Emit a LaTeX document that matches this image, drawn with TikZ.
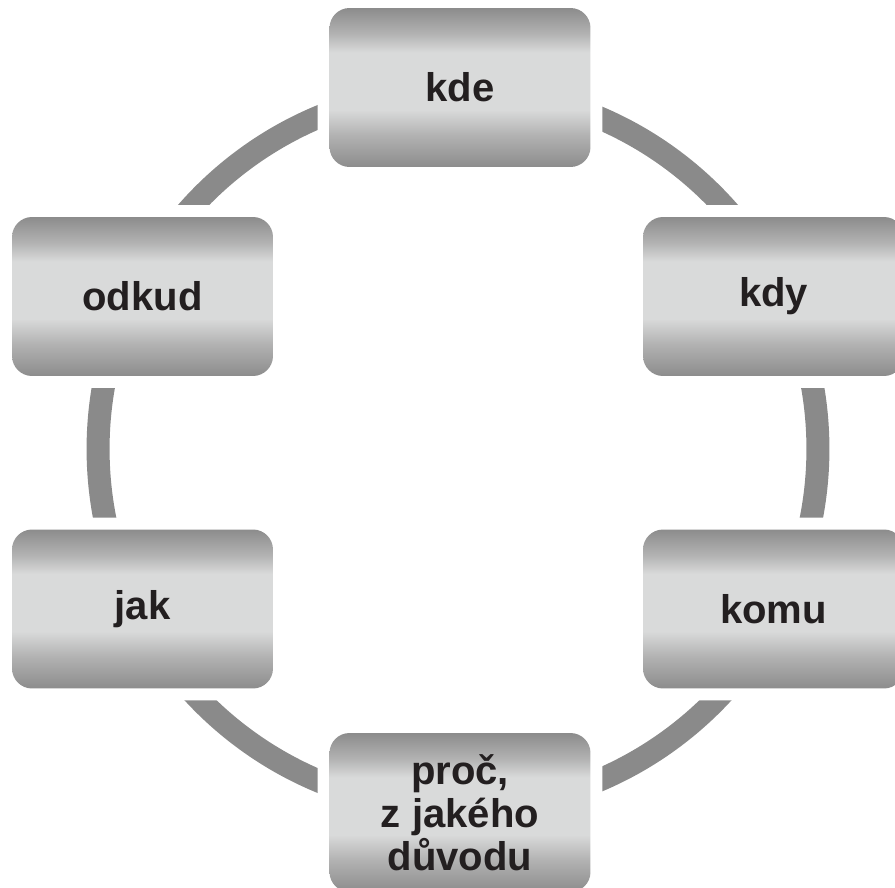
\documentclass[tikz,border=0pt]{standalone}
\usepackage{fontspec}
\setmainfont{Liberation Sans}
\usepackage{xcolor}

\definecolor{ringgray}{HTML}{8A8A8A}
\definecolor{boxdark}{HTML}{8C8C8C}
\definecolor{boxmid}{HTML}{B2B2B2}
\definecolor{boxlight}{HTML}{D9DADA}
\definecolor{textdark}{HTML}{231F20}
\pgfdeclareverticalshading{boxshade}{100bp}{color(0bp)=(boxdark); color(25bp)=(boxdark); color(35bp)=(boxmid); color(43bp)=(boxlight); color(61bp)=(boxlight); color(67bp)=(boxmid); color(75bp)=(boxdark); color(100bp)=(boxdark)}

\begin{document}
\begin{tikzpicture}[x=0.02cm, y=-0.02cm,
    ring/.style={draw=ringgray, line width=0.46cm},
    box/.style={rounded corners=0.4cm, shading=boxshade, minimum width=5.22cm,
      minimum height=3.18cm, inner sep=0pt, align=center, text=textdark,
      font=\fontsize{22.8}{24.5}\selectfont\bfseries,
      preaction={draw=white, line width=0.48cm}}]
    \clip (0,0) rectangle (895,888);
    % Kruh
    \coordinate (stred) at (458,449);
    \draw[ring] (stred) circle[radius=7.2cm];
    % Otázky
    \node[box] (kde) at (460,87.5) {kde};
    \node[box] (kdy) at (773.5,296.5) {kdy};
    \node[box] (komu) at (773.5,609) {komu};
    \node[box] (proc) at (460,812.5) {proč,\\ z jakého\\ důvodu};
    \node[box] (jak) at (142.5,609) {jak};
    \node[box] (odkud) at (142.5,296.5) {odkud};
\end{tikzpicture}
\end{document}
